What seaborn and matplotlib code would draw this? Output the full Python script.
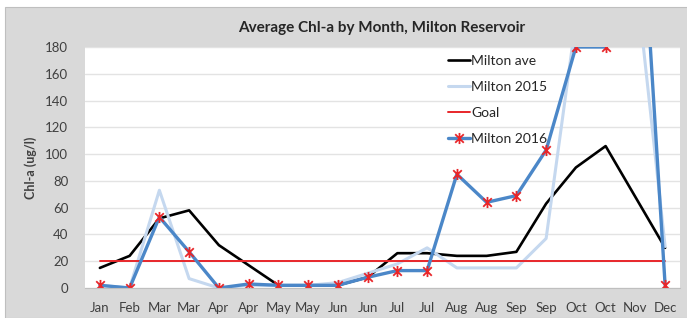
import numpy as np
import pandas as pd
import matplotlib
matplotlib.use('Agg')
import matplotlib.pyplot as plt
from matplotlib.path import Path
from matplotlib.patches import Rectangle
import seaborn as sns

months = ['Jan', 'Feb', 'Mar', 'Mar', 'Apr', 'Apr', 'May', 'May', 'Jun', 'Jun',
          'Jul', 'Jul', 'Aug', 'Aug', 'Sep', 'Sep', 'Oct', 'Oct', 'Nov', 'Dec']
milton_ave = [15, 24, 52, 58, 32, 17, 2, 2, 2, 8,
              26, 26, 24, 24, 27, 63, 90, 106, 68, 30]
milton_2015 = [2, 0, 73, 7, 0, 2, 2, 2, 4, 11,
               18, 30, 15, 15, 15, 37, 200, 220, 235, 31]
milton_2016 = [2, 0, 53, 27, 0, 3, 2, 2, 2, 8,
               13, 13, 85, 64, 69, 103, 180, 180, 360, 2]
goal = [20] * len(months)

sns.set_style('white')
plt.rcParams['font.family'] = ['Lato', 'DejaVu Sans']

x = np.arange(len(months))

# Excel style star marker: an X with a vertical bar
star = Path([(-1, -1), (1, 1), (-1, 1), (1, -1), (0, -1.3), (0, 1.3)],
            [Path.MOVETO, Path.LINETO, Path.MOVETO, Path.LINETO, Path.MOVETO, Path.LINETO])

fig = plt.figure(figsize=(6.87, 3.18), dpi=100)
fig.patch.set_facecolor('white')
fig.patches.append(Rectangle((5 / 687, 0), 1, 1 - 7 / 318, transform=fig.transFigure,
                             facecolor='#d9d9d9', edgecolor='#bfbfbf', lw=0.8, zorder=-1))
ax = fig.add_axes([85 / 687, 30 / 318, 595 / 687, 241 / 318])
ax.set_facecolor('white')

sns.lineplot(x=x, y=milton_ave, ax=ax, color='black', lw=1.9, label='Milton ave')
sns.lineplot(x=x, y=milton_2015, ax=ax, color='#c5d8ef', lw=2.2, label='Milton 2015')
sns.lineplot(x=x, y=goal, ax=ax, color='#e8262a', lw=1.4, label='Goal')
sns.lineplot(x=x, y=milton_2016, ax=ax, color='#4b87c8', lw=2.4, label='Milton 2016',
             marker=star, markersize=8, markeredgecolor='#e8262a', markerfacecolor='none',
             markeredgewidth=1.3)

ax.set_xlim(-0.5, len(months) - 0.5)
ax.set_ylim(0, 180)
ax.set_yticks(range(0, 181, 20))
ax.yaxis.grid(True, color='#e3e3e3', lw=1)
ax.set_axisbelow(True)
ax.set_xticks(x)
ax.set_xticklabels(months)
ax.set_xticks(np.arange(-0.5, len(months), 1), minor=True)
ax.tick_params(axis='x', which='major', length=0, pad=10, labelsize=9.5, labelcolor='#404040')
ax.tick_params(axis='x', which='minor', length=4, color='#bfbfbf', direction='out')
ax.tick_params(axis='y', length=0, pad=12, labelsize=9.5, labelcolor='#404040')
for s in ['top', 'right', 'left']:
    ax.spines[s].set_visible(False)
ax.spines['bottom'].set_color('#bfbfbf')

ax.set_ylabel('Chl-a (ug/l)', fontsize=9, fontweight='bold', color='#404040', labelpad=6)
fig.text(382 / 687, 1 - 28 / 318, 'Average Chl-a by Month, Milton Reservoir',
         ha='center', va='center', fontsize=11, fontweight='bold', color='#262626')

ax.legend(loc='upper left', bbox_to_anchor=(0.6, 0.99), frameon=False, fontsize=10,
          handlelength=1.6, handletextpad=0.1, labelspacing=1.0, borderaxespad=0)

fig.savefig('out.png', dpi=100)
